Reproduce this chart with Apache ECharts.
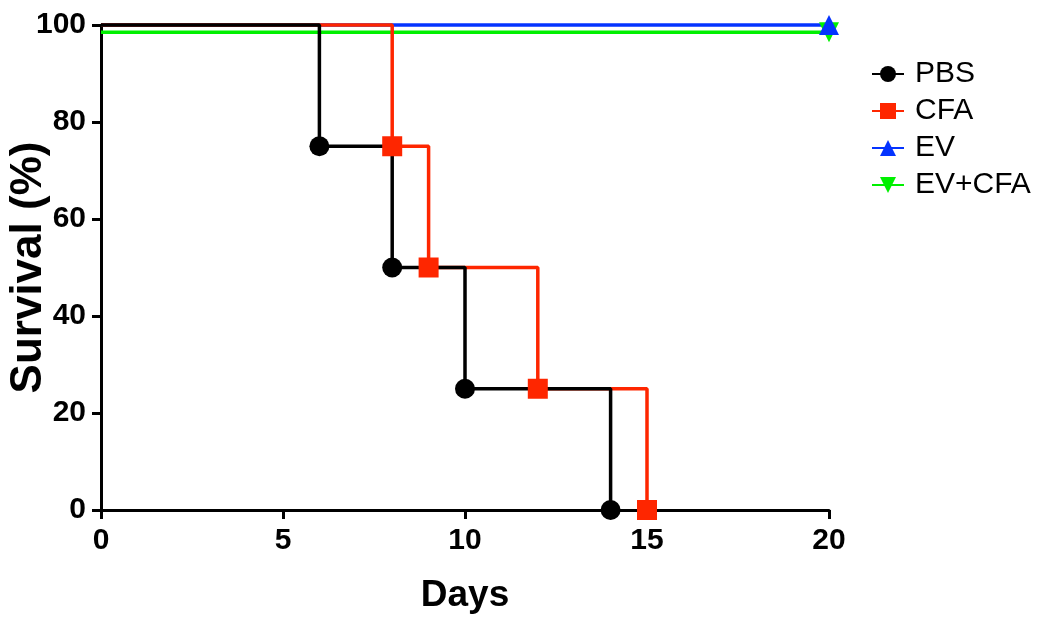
<!DOCTYPE html>
<html>
<head>
<meta charset="utf-8">
<script src="https://cdn.jsdelivr.net/npm/echarts@6/dist/echarts.min.js"></script>
<style>html,body{margin:0;padding:0;background:#fff}#c{width:1050px;height:628px}</style>
</head>
<body>
<div id="c"></div>
<script>
const seriesNames = ['PBS', 'CFA', 'EV', 'EV+CFA'];
const pbsDays = [0, 6, 8, 10, 14];
const pbsSurvival = [100, 75, 50, 25, 0];
const cfaDays = [0, 8, 9, 12, 15];
const cfaSurvival = [100, 75, 50, 25, 0];
const evDays = [0, 20];
const evSurvival = [100, 100];
const evCfaDays = [0, 20];
const evCfaSurvival = [98.5, 98.5];
const xTicks = [0, 5, 10, 15, 20];
const yTicks = [0, 20, 40, 60, 80, 100];

function pts(days, vals) {
  return days.map((d, i) => i === 0 ? { value: [d, vals[i]], symbol: 'none' } : { value: [d, vals[i]] });
}

const chart = echarts.init(document.getElementById('c'), null, { renderer: 'canvas' });
const font = 'Liberation Sans, Arial, Helvetica, sans-serif';

function mk(name, days, vals, color, symbol, lw, rot) {
  return {
    name: name, type: 'line', step: 'end', clip: false,
    data: pts(days, vals),
    symbol: symbol, symbolSize: 20, symbolRotate: rot || 0,
    showAllSymbol: true,
    lineStyle: { color: color, width: lw },
    itemStyle: { color: color, borderWidth: 0 },
    emphasis: { disabled: true },
    animation: false
  };
}

chart.setOption({
  backgroundColor: '#fff',
  animation: false,
  grid: { left: 101, right: 221, top: 25, bottom: 118, containLabel: false, outerBoundsMode: 'none' },
  legend: {
    orient: 'vertical', left: 866, top: 53,
    data: seriesNames,
    itemWidth: 32, itemHeight: 20, itemGap: 5,
    textStyle: { fontFamily: font, fontSize: 30, color: '#000', lineHeight: 32, padding: [0, 0, 0, 6] },
    selectedMode: false
  },
  xAxis: {
    type: 'value', min: 0, max: 20, interval: 5,
    name: 'Days', nameLocation: 'middle', nameGap: 67, nameMoveOverlap: false,
    nameTextStyle: { fontFamily: font, fontSize: 37, fontWeight: 'bold', color: '#000' },
    axisLine: { show: true, onZero: false, lineStyle: { color: '#000', width: 3 } },
    axisTick: { show: true, inside: false, length: 9, lineStyle: { color: '#000', width: 3 } },
    axisLabel: { fontFamily: font, fontSize: 30, fontWeight: 'bold', color: '#000', margin: 16,
      formatter: v => xTicks.includes(v) ? String(v) : '' },
    splitLine: { show: false }
  },
  yAxis: {
    type: 'value', min: 0, max: 100, interval: 20,
    name: 'Survival (%)', nameLocation: 'middle', nameGap: 50, nameRotate: 90, nameMoveOverlap: false,
    nameTextStyle: { fontFamily: font, fontSize: 44, fontWeight: 'bold', color: '#000' },
    axisLine: { show: true, onZero: false, lineStyle: { color: '#000', width: 3 } },
    axisTick: { show: true, inside: false, length: 9, lineStyle: { color: '#000', width: 3 } },
    axisLabel: { fontFamily: font, fontSize: 30, fontWeight: 'bold', color: '#000', margin: 15,
      formatter: v => yTicks.includes(v) ? String(v) : '' },
    splitLine: { show: false }
  },
  series: [
    mk('EV+CFA', evCfaDays, evCfaSurvival, '#00f000', 'triangle', 3.5, 180),
    mk('EV', evDays, evSurvival, '#0433ff', 'triangle', 3.5, 0),
    mk('CFA', cfaDays, cfaSurvival, '#fe2600', 'rect', 3.5, 0),
    mk('PBS', pbsDays, pbsSurvival, '#000000', 'circle', 3.5, 0)
  ]
});
</script>
</body>
</html>
